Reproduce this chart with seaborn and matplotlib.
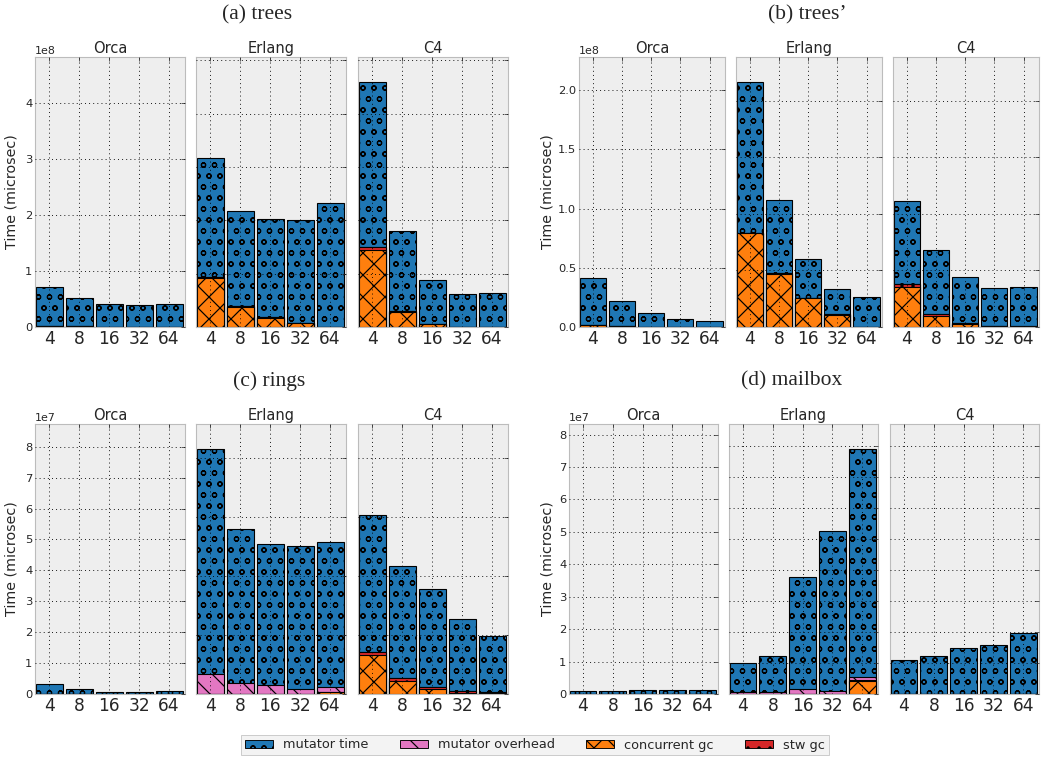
import matplotlib
matplotlib.use("Agg")
import matplotlib.pyplot as plt
import matplotlib.ticker as mticker
from matplotlib.patches import Patch
import seaborn as sns

sns.set_style("white")
plt.rcParams["font.family"] = ["DejaVu Sans"]
plt.rcParams["hatch.linewidth"] = 1.3

# ---- data (values in units of the panel scale) ----
threads = ["4", "8", "16", "32", "64"]
systems = ["Orca", "Erlang", "C4"]
series = ["mutator time", "mutator overhead", "concurrent gc", "stw gc"]

titles = ["(a) trees", "(b) trees\u2019", "(c) rings", "(d) mailbox"]
scales = [1e8, 1e8, 1e7, 1e7]

# rows: Orca, Erlang, C4
trees_mutator = [[0.687, 0.508, 0.413, 0.393, 0.403],
                 [2.22, 1.785, 1.835, 1.92, 2.325],
                 [3.11, 1.495, 0.83, 0.616, 0.634]]
trees_overhead = [[0, 0, 0, 0, 0], [0, 0, 0, 0, 0], [0, 0, 0, 0, 0]]
trees_concurrent = [[0.02, 0.01, 0.005, 0.005, 0.005],
                    [0.92, 0.375, 0.17, 0.07, 0.0],
                    [1.44, 0.28, 0.05, 0.005, 0.003]]
trees_stw = [[0.003, 0.002, 0.002, 0.002, 0.002],
             [0.02, 0.015, 0.015, 0.01, 0.005],
             [0.05, 0.015, 0.01, 0.004, 0.003]]

trees2_mutator = [[0.393, 0.213, 0.117, 0.066, 0.052],
                  [1.335, 0.652, 0.348, 0.225, 0.266],
                  [0.74, 0.563, 0.406, 0.34, 0.351]]
trees2_overhead = [[0, 0, 0, 0, 0], [0, 0, 0, 0, 0], [0, 0, 0, 0, 0]]
trees2_concurrent = [[0.015, 0.005, 0.002, 0.001, 0.001],
                     [0.83, 0.47, 0.252, 0.11, 0.0],
                     [0.354, 0.097, 0.03, 0.005, 0.003]]
trees2_stw = [[0.002, 0.002, 0.001, 0.001, 0.001],
              [0.005, 0.005, 0.005, 0.005, 0.002],
              [0.024, 0.021, 0.006, 0.003, 0.003]]

rings_mutator = [[0.32, 0.16, 0.08, 0.08, 0.09],
                 [7.65, 5.195, 4.805, 4.87, 4.93],
                 [4.62, 3.79, 3.32, 2.44, 1.89]]
rings_overhead = [[0, 0, 0, 0, 0],
                  [0.67, 0.385, 0.295, 0.16, 0.15],
                  [0, 0, 0, 0, 0]]
rings_concurrent = [[0, 0, 0, 0, 0],
                    [0, 0, 0, 0, 0.08],
                    [1.33, 0.44, 0.17, 0.045, 0.02]]
rings_stw = [[0, 0, 0, 0, 0],
             [0, 0, 0, 0, 0],
             [0.11, 0.1, 0.07, 0.045, 0.05]]

mailbox_mutator = [[0.1, 0.1, 0.12, 0.12, 0.12],
                   [0.95, 1.17, 3.62, 5.14, 7.39],
                   [1.09, 1.24, 1.48, 1.57, 1.98]]
mailbox_overhead = [[0, 0, 0, 0, 0],
                    [0.065, 0.05, 0.15, 0.11, 0.08],
                    [0, 0, 0, 0, 0]]
mailbox_concurrent = [[0, 0, 0, 0, 0],
                      [0, 0, 0, 0, 0.42],
                      [0, 0, 0, 0, 0]]
mailbox_stw = [[0, 0, 0, 0, 0],
               [0, 0, 0, 0, 0.04],
               [0, 0, 0, 0, 0]]

panels = [
    (trees_mutator, trees_overhead, trees_concurrent, trees_stw),
    (trees2_mutator, trees2_overhead, trees2_concurrent, trees2_stw),
    (rings_mutator, rings_overhead, rings_concurrent, rings_stw),
    (mailbox_mutator, mailbox_overhead, mailbox_concurrent, mailbox_stw),
]

# ---- style / layout ----
# legend order: mutator time, mutator overhead, concurrent gc, stw gc
colors = ["#1f77b4", "#e377c2", "#ff7f0e", "#d62728"]
hatches = ["o", "\\", "x", "."]
bg = "#eeeeee"
spine = "#bcbcbc"
grid_style = (0, (1, 3.5))

W, H = 1048, 759
DPI = 66
fig = plt.figure(figsize=(W / DPI, H / DPI), dpi=DPI)

# axes boxes in pixels: (lefts, width, top, bottom)
boxes = [
    ([35, 196, 358], 150, 57, 327),
    ([579, 736, 893], 146, 57, 327),
    ([35, 196, 358], 150, 424, 694),
    ([569, 729, 890], 149, 424, 694),
]
title_pos = [(257, 15), (807, 15), (269, 381), (792, 381)]
ylabel_x = [-0.107, -0.171, -0.107, -0.10]
orca_step = [1, 0.5, 1, 1]
other_step = [1, 0.5, 2, 1]

for p, (mut, ovh, cgc, stw) in enumerate(panels):
    sc = scales[p]
    lefts, w, top, bottom = boxes[p]
    totals = [[m + o + c + s for m, o, c, s in zip(mut[k], ovh[k], cgc[k], stw[k])]
              for k in range(3)]
    peak = max(max(t) for t in totals) * sc

    for k, name in enumerate(systems):
        ax = fig.add_axes([lefts[k] / W, 1 - bottom / H, w / W, (bottom - top) / H])
        # stacked bottom-up: concurrent gc, stw gc, overhead, mutator
        # drawn as cumulative bars from tallest to shortest
        layer_all = [t * sc for t in totals[k]]
        layer_ovh = [(c + s + o) * sc for c, s, o in zip(cgc[k], stw[k], ovh[k])]
        layer_stw = [(c + s) * sc for c, s in zip(cgc[k], stw[k])]
        layer_cgc = [c * sc for c in cgc[k]]
        layers = [(layer_all, 0), (layer_ovh, 1), (layer_stw, 3), (layer_cgc, 2)]
        for vals, si in layers:
            sns.barplot(x=threads, y=vals, ax=ax, color=colors[si], saturation=1,
                        width=0.9, edgecolor="black", linewidth=1.2,
                        hatch=hatches[si], errorbar=None)

        ax.set_xlim(-0.47, 4.53)
        if k == 0:
            ax.set_ylim(0, peak * 1.05)
            ax.yaxis.set_major_locator(mticker.MultipleLocator(orca_step[p] * sc))
            ax.set_ylabel("Time (microsec)", fontsize=15.5)
            ax.yaxis.set_label_coords(ylabel_x[p], 0.5)
            ax.yaxis.get_offset_text().set_fontsize(12)
        else:
            ax.set_ylim(0, peak * 1.1)
            ax.yaxis.set_major_locator(mticker.MultipleLocator(other_step[p] * sc))
            ax.tick_params(labelleft=False)
            ax.yaxis.get_offset_text().set_visible(False)
            ax.set_ylabel("")
        ax.set_xlabel("")
        ax.set_title(name, fontsize=16, pad=4)
        ax.set_facecolor(bg)
        ax.grid(True, linestyle=grid_style, color="black", linewidth=1.0)
        ax.set_axisbelow(False)
        for s in ax.spines.values():
            s.set_color(spine)
            s.set_linewidth(1.2)
        ax.tick_params(axis="x", labelsize=18.5, direction="in", top=True, length=4, pad=3)
        ax.tick_params(axis="y", labelsize=12.5, direction="in", right=True, length=4, pad=3)

    fig.text(title_pos[p][0] / W, 1 - title_pos[p][1] / H, titles[p],
             family=["Liberation Serif", "DejaVu Serif"], fontsize=23.5,
             ha="center", va="center")

handles = [Patch(facecolor=c, edgecolor="black", hatch=h) for c, h in zip(colors, hatches)]
leg = fig.legend(handles, series, ncol=4, loc="center",
                 bbox_to_anchor=(535 / W, 1 - 745 / H), fontsize=14,
                 frameon=True, fancybox=False, handlelength=2.2, handleheight=0.6,
                 columnspacing=2.4, borderpad=0.3)
leg.get_frame().set_facecolor("#f0f0f0")
leg.get_frame().set_edgecolor(spine)

fig.savefig("out.png", dpi=DPI)
